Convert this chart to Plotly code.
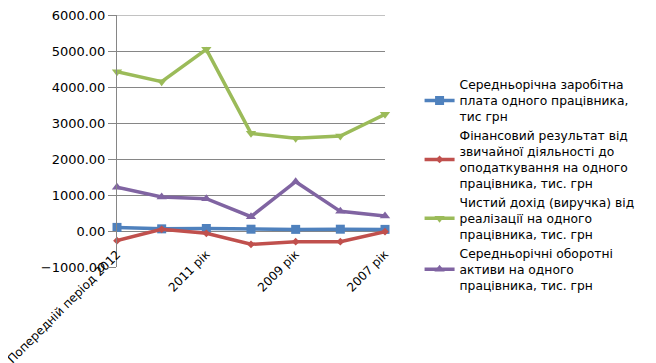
import plotly.graph_objects as go

categories = ["Попередній період 2012", "2012 рік", "2011 рік", "2010 рік", "2009 рік", "2008 рік", "2007 рік"]
shown_ticks = ["Попередній період 2012", "2011 рік", "2009 рік", "2007 рік"]

salary = [100, 60, 70, 50, 45, 50, 45]
fin_result = [-268, 46, -65, -370, -296, -296, -18]
revenue = [4425, 4148, 5046, 2713, 2574, 2639, 3241]
assets = [1213, 944, 898, 398, 1370, 546, 417]
y_min, y_max = -1000, 6000

names = [
    "Середньорічна заробітна<br>плата одного працівника,<br>тис грн",
    "Фінансовий результат від<br>звичайної діяльності до<br>оподаткування на одного<br>працівника, тис. грн",
    "Чистий дохід (виручка) від<br>реалізації на одного<br>працівника, тис. грн",
    "Середньорічні оборотні<br>активи на одного<br>працівника, тис. грн",
]
series = [salary, fin_result, revenue, assets]
colors = ["#4F81BD", "#C0504D", "#9BBB59", "#8064A2"]
symbols = ["square", "diamond", "triangle-down", "triangle-up"]
sizes = [9, 6, 9, 9]

fig = go.Figure()
for n, s, c, sym, sz in zip(names, series, colors, symbols, sizes):
    fig.add_trace(go.Scatter(
        x=categories, y=s, name=n, mode="lines+markers",
        line=dict(color=c, width=3.5),
        marker=dict(symbol=sym, size=sz, color=c),
        cliponaxis=False,
    ))

# top gridline (plotly skips the gridline at the range edge)
fig.add_shape(type="line", xref="paper", yref="y", x0=0, x1=1, y0=y_max, y1=y_max,
              line=dict(color="#868686", width=1), layer="below")

fig.update_layout(
    width=656, height=363,
    margin=dict(l=109, r=279, t=7, b=104),
    paper_bgcolor="white", plot_bgcolor="white",
    font=dict(family="DejaVu Sans", size=13, color="#000"),
    showlegend=True,
    legend=dict(x=1.129, y=0.782, xanchor="left", yanchor="top",
                font=dict(size=12.3), itemwidth=30,
                bgcolor="rgba(0,0,0,0)"),
)
fig.update_xaxes(
    type="category", range=[0, 6], tickmode="array", tickvals=shown_ticks,
    tickangle=-45, automargin=False, showgrid=False, showline=False,
    zeroline=False, tickfont=dict(size=12), ticklabelstandoff=-23,
)
fig.update_yaxes(
    range=[y_min, y_max], dtick=1000, tickformat=".2f",
    showgrid=True, gridcolor="#868686", gridwidth=1,
    showline=True, linecolor="#868686", linewidth=1,
    zeroline=False, automargin=False, ticks="outside", ticklen=8,
    tickcolor="#868686", tickfont=dict(size=13),
    ticklabeloverflow="allow",
)

fig.write_html("out.html")
